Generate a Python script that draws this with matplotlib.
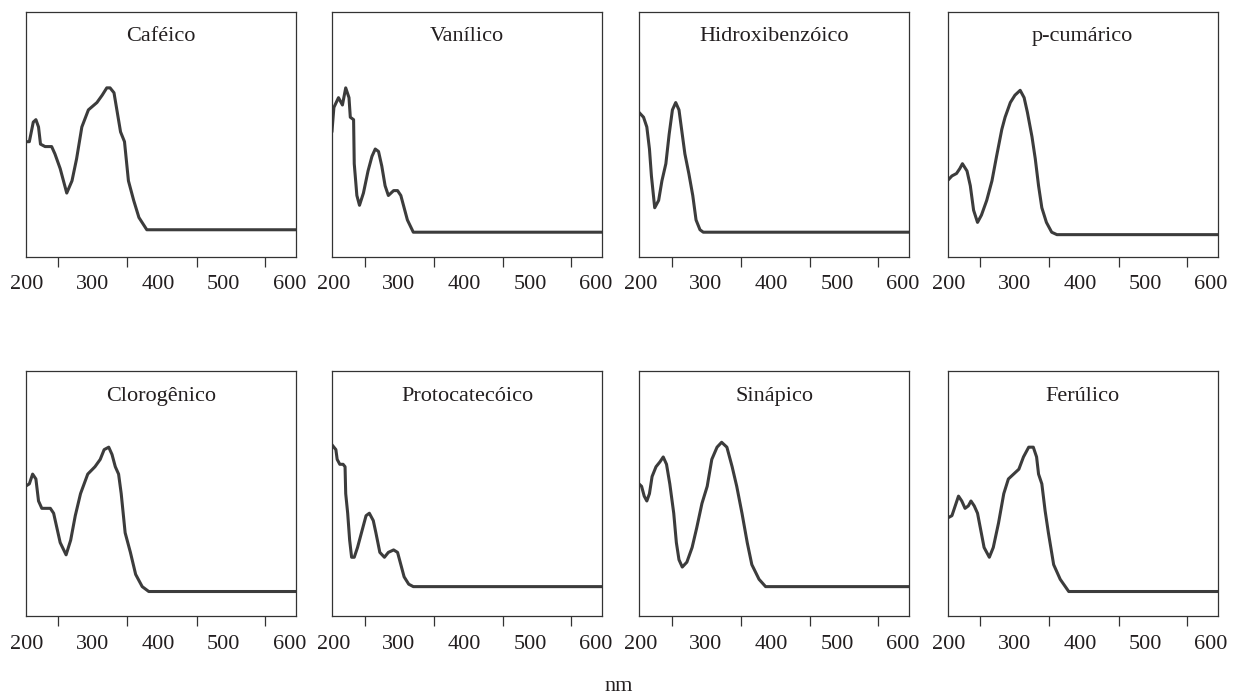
import matplotlib
matplotlib.use('Agg')
import matplotlib.pyplot as plt

# UV spectra of phenolic acids (normalised absorbance)
names = ['Caféico', 'Vanílico', 'Hidroxibenzóico', 'p-cumárico',
         'Clorogênico', 'Protocatecóico', 'Sinápico', 'Ferúlico']

cafeico_nm = [198, 204, 210, 214, 218, 221, 228, 238, 243, 251, 261, 269, 276,
              284, 294, 307, 315, 322, 327, 333, 338, 343, 349, 355, 363, 371,
              383, 400, 610]
cafeico_abs = [0.47, 0.47, 0.55, 0.56, 0.53, 0.46, 0.45, 0.45, 0.42, 0.36,
               0.26, 0.31, 0.40, 0.53, 0.60, 0.63, 0.66, 0.69, 0.69, 0.67,
               0.59, 0.51, 0.47, 0.31, 0.23, 0.16, 0.11, 0.11, 0.11]

vanilico_nm = [198, 201, 208, 214, 219, 224, 226, 231, 232, 236, 240, 246,
               253, 259, 264, 269, 274, 279, 284, 292, 298, 303, 308, 313,
               322, 610]
vanilico_abs = [0.51, 0.61, 0.65, 0.62, 0.69, 0.65, 0.57, 0.56, 0.38, 0.25,
                0.21, 0.26, 0.35, 0.41, 0.44, 0.43, 0.37, 0.29, 0.25, 0.27,
                0.27, 0.25, 0.20, 0.15, 0.10, 0.10]

hidroxi_nm = [198, 205, 210, 214, 217, 222, 228, 233, 239, 244, 249, 254, 259,
              263, 268, 274, 280, 285, 291, 296, 610]
hidroxi_abs = [0.59, 0.57, 0.53, 0.44, 0.33, 0.20, 0.23, 0.31, 0.38, 0.50,
               0.60, 0.63, 0.60, 0.52, 0.42, 0.34, 0.25, 0.15, 0.11, 0.10,
               0.10]

cumarico_nm = [198, 205, 212, 217, 221, 228, 233, 238, 244, 250, 258, 266,
               273, 281, 286, 294, 301, 309, 315, 320, 327, 332, 337, 342,
               349, 357, 365, 610]
cumarico_abs = [0.31, 0.33, 0.34, 0.36, 0.38, 0.35, 0.29, 0.19, 0.14, 0.17,
                0.23, 0.31, 0.41, 0.52, 0.57, 0.63, 0.66, 0.68, 0.65, 0.59,
                0.49, 0.40, 0.29, 0.20, 0.14, 0.10, 0.09, 0.09]

cloro_nm = [198, 204, 209, 214, 218, 223, 236, 241, 246, 251, 260, 267, 274,
            282, 293, 304, 312, 318, 325, 330, 335, 340, 344, 350, 358, 366,
            376, 386, 610]
cloro_abs = [0.53, 0.54, 0.58, 0.56, 0.47, 0.44, 0.44, 0.42, 0.36, 0.30,
             0.25, 0.31, 0.41, 0.50, 0.58, 0.61, 0.64, 0.68, 0.69, 0.66,
             0.61, 0.58, 0.50, 0.34, 0.26, 0.17, 0.12, 0.10, 0.10]

proto_nm = [198, 204, 206, 210, 215, 218, 219, 222, 225, 228, 232, 237, 243,
            250, 255, 261, 265, 271, 278, 284, 292, 298, 303, 308, 315, 322,
            610]
proto_abs = [0.70, 0.68, 0.64, 0.62, 0.62, 0.61, 0.50, 0.42, 0.31, 0.24,
             0.24, 0.28, 0.34, 0.41, 0.42, 0.39, 0.34, 0.26, 0.24, 0.26,
             0.27, 0.26, 0.21, 0.16, 0.13, 0.12, 0.12]

sinapico_nm = [198, 202, 206, 210, 214, 218, 224, 230, 235, 240, 245, 251,
               255, 259, 264, 271, 279, 286, 294, 302, 309, 317, 324, 332,
               340, 347, 355, 363, 370, 381, 391, 610]
sinapico_abs = [0.54, 0.53, 0.49, 0.47, 0.50, 0.57, 0.61, 0.63, 0.65, 0.62,
                0.54, 0.42, 0.30, 0.23, 0.20, 0.22, 0.28, 0.36, 0.46, 0.53,
                0.64, 0.69, 0.71, 0.69, 0.61, 0.53, 0.42, 0.30, 0.21, 0.15,
                0.12, 0.12]

ferulico_nm = [198, 205, 210, 215, 220, 225, 230, 234, 239, 244, 249, 254,
               262, 268, 276, 284, 291, 299, 307, 314, 322, 329, 334, 337,
               342, 347, 352, 360, 370, 383, 610]
ferulico_abs = [0.40, 0.41, 0.45, 0.49, 0.47, 0.44, 0.45, 0.47, 0.45, 0.42,
                0.35, 0.28, 0.24, 0.28, 0.38, 0.50, 0.56, 0.58, 0.60, 0.65,
                0.69, 0.69, 0.65, 0.58, 0.54, 0.43, 0.34, 0.21, 0.15, 0.10,
                0.10]

spectra = [(cafeico_nm, cafeico_abs), (vanilico_nm, vanilico_abs),
           (hidroxi_nm, hidroxi_abs), (cumarico_nm, cumarico_abs),
           (cloro_nm, cloro_abs), (proto_nm, proto_abs),
           (sinapico_nm, sinapico_abs), (ferulico_nm, ferulico_abs)]

tick_labels = [200, 300, 400, 500, 600]
tick_marks = [248, 353, 459, 563]

FONT = 'Liberation Serif'


def draw_panel(ax, name, nm, ab):
    ax.plot(nm, ab, color='#3c3c3c', lw=2.2, solid_capstyle='round',
            solid_joinstyle='round')
    ax.set_xlim(198.5, 610)
    ax.set_ylim(0, 1)
    ax.set_yticks([])
    ax.set_xticks(tick_labels)
    ax.set_xticklabels([str(t) for t in tick_labels], fontfamily=FONT,
                       fontsize=16, color='#231f20')
    ax.set_xticks(tick_marks, minor=True)
    ax.tick_params(axis='x', which='major', length=0, pad=13.5)
    ax.tick_params(axis='x', which='minor', length=7, width=0.9,
                   color='#333333', direction='out')
    for sp in ax.spines.values():
        sp.set_linewidth(0.9)
        sp.set_color('#333333')
    ax.text(0.5, 0.898, name, transform=ax.transAxes, ha='center',
            va='center', fontfamily=FONT, fontsize=16, color='#231f20')


def main():
    fig = plt.figure(figsize=(12.37, 6.95), dpi=100)
    lefts = [0.0208, 0.2686, 0.5168, 0.7661]
    bottoms = [0.6307, 0.1137]
    w, h = 0.2183, 0.352

    for i, (name, (nm, ab)) in enumerate(zip(names, spectra)):
        row, col = divmod(i, 4)
        ax = fig.add_axes([lefts[col], bottoms[row], w, h], frame_on=True)
        draw_panel(ax, name, nm, ab)

    fig.text(0.5, 0.0125, 'nm', ha='center', va='center', fontfamily=FONT,
             fontsize=16, color='#231f20')

    fig.savefig('out.png', dpi=100)


if __name__ == '__main__':
    main()
